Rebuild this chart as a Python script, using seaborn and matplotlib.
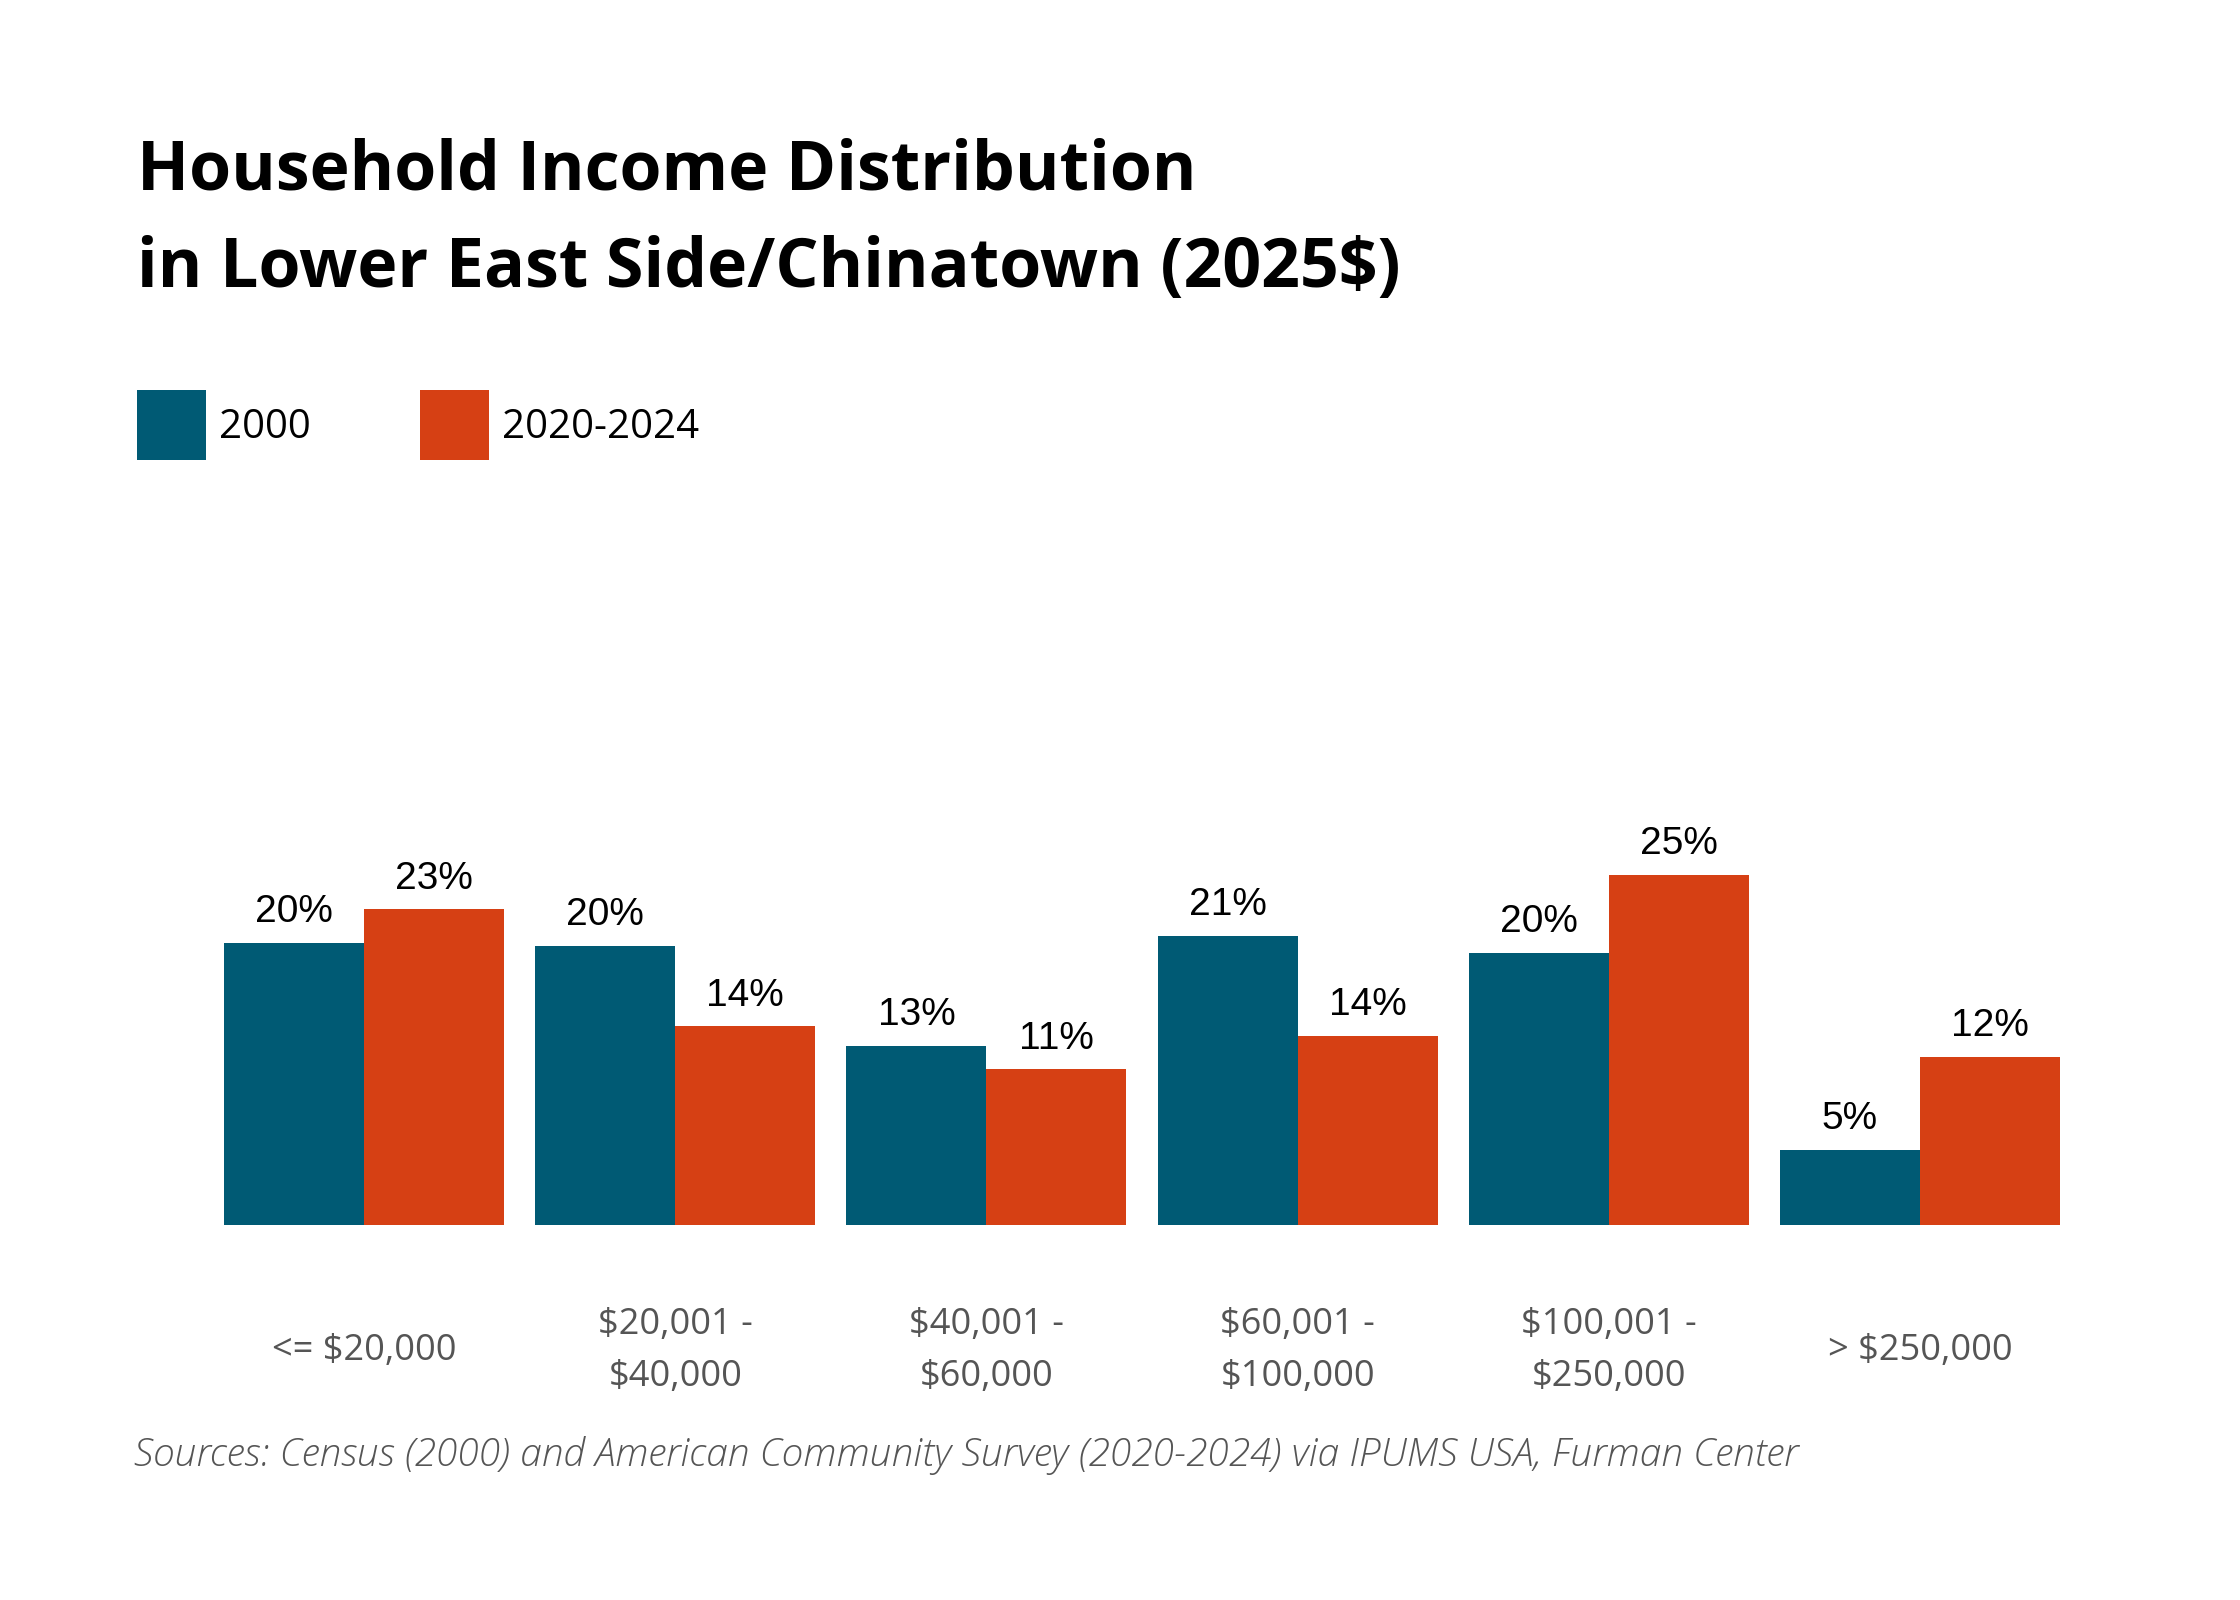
"""Household income distribution bar chart, Lower East Side/Chinatown."""

import matplotlib
matplotlib.use("Agg")
import matplotlib.pyplot as plt
import pandas as pd
import seaborn as sns

categories = ["<= $20,000", "$20,001 -\n$40,000", "$40,001 -\n$60,000",
              "$60,001 -\n$100,000", "$100,001 -\n$250,000", "> $250,000"]
periods = ["2000", "2020-2024"]
share_2000 = [20.3, 20.1, 12.9, 20.8, 19.6, 5.4]
share_2020_2024 = [22.7, 14.3, 11.2, 13.6, 25.2, 12.1]
colors = {"2000": "#005A74", "2020-2024": "#D64014"}

df = pd.DataFrame({
    "bracket": categories * 2,
    "period": [periods[0]] * len(categories) + [periods[1]] * len(categories),
    "share": share_2000 + share_2020_2024,
})

sns.set_theme(style="white")
plt.rcParams["font.family"] = ["Open Sans", "DejaVu Sans"]

W, H = 2240, 1600
fig = plt.figure(figsize=(W / 100, H / 100), dpi=100)
ax = fig.add_axes([208.4 / W, 1 - 1225 / H, 1867.2 / W, 417 / H])

sns.barplot(data=df, x="bracket", y="share", hue="period", order=categories,
            hue_order=periods, palette=colors, width=0.9, saturation=1,
            errorbar=None, linewidth=0, ax=ax)

for cont in ax.containers:
    vals = [b.get_height() for b in cont]
    ax.bar_label(cont, labels=[f"{round(v)}%" for v in vals], padding=9,
                 fontsize=28, family="Liberation Sans", color="black")

ax.set_xlim(-0.5, 5.5)
ax.set_ylim(0, 30)
ax.set_xlabel("")
ax.set_ylabel("")
ax.set_yticks([])
sns.despine(ax=ax, left=True, bottom=True)
ax.tick_params(axis="x", length=0, pad=91, labelsize=26, labelcolor="#555555")
for lab in ax.get_xticklabels():
    lab.set_verticalalignment("center")
    lab.set_linespacing(1.6)
    lab.set_multialignment("center")

sns.move_legend(ax, "upper left", bbox_to_anchor=(137 / W, 1 - 390 / H),
                bbox_transform=fig.transFigure, ncol=2, title=None,
                frameon=False, fontsize=29, handlelength=1.72, handleheight=2.3,
                handletextpad=0.32, columnspacing=2.7, borderpad=0,
                borderaxespad=0, labelcolor="black")

fig.text(137 / W, 1 - 190 / H, "Household Income Distribution",
         fontsize=49, fontweight="bold", color="black", va="baseline", ha="left")
fig.text(137 / W, 1 - 287 / H, "in Lower East Side/Chinatown (2025$)",
         fontsize=49, fontweight="bold", color="black", va="baseline", ha="left")
fig.text(134 / W, 1 - 1466 / H,
         "Sources: Census (2000) and American Community Survey (2020-2024) via IPUMS USA, Furman Center",
         fontsize=28, style="italic", fontweight="light", color="#555555",
         va="baseline", ha="left")

fig.savefig("out.png", dpi=100, facecolor="white")
plt.close(fig)
